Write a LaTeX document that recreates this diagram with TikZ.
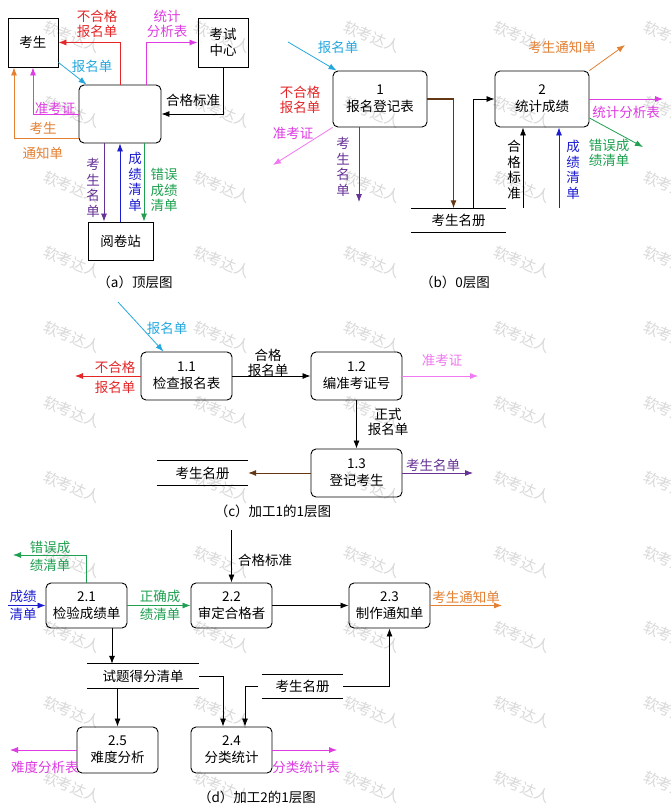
\documentclass[tikz,border=0pt]{standalone}
\usepackage{fontspec}
\newfontfamily\cjk{Noto Sans CJK SC}
\usetikzlibrary{arrows.meta,calc}
\definecolor{cred}{RGB}{228,38,40}
\definecolor{ccyan}{RGB}{38,168,222}
\definecolor{cmag}{RGB}{222,60,226}
\definecolor{cpink}{RGB}{240,120,240}
\definecolor{corange}{RGB}{228,128,50}
\definecolor{cpurple}{RGB}{102,50,150}
\definecolor{cblue}{RGB}{28,28,210}
\definecolor{cgreen}{RGB}{30,160,80}
\definecolor{cbrown}{RGB}{100,55,20}
\begin{document}
\begin{tikzpicture}[x=1pt,y=-1pt,
  every node/.style={font=\cjk\fontsize{13.5}{15.5}\selectfont},
  ebox/.style={draw, line width=0.9pt, inner sep=0pt, align=center},
  pbox/.style={draw, line width=0.9pt, rounded corners=5pt, inner sep=0pt, align=center, font=\cjk\fontsize{13.5}{17}\selectfont},
  lbl/.style={inner sep=0pt, align=center},
  arr/.style={-{Latex[length=8pt,width=6pt]}, line width=0.8pt},
  sline/.style={line width=0.8pt},
  dstore/.style={inner sep=0pt, minimum height=24pt},
  wm/.style={text=black!15, rotate=-22, font=\cjk\fontsize{15}{15}\selectfont},
  captext/.style={inner sep=0pt, font=\cjk\fontsize{13.5}{15}\selectfont}]
\useasboundingbox (0,0) rectangle (671,809);
\fill[white] (0,0) rectangle (671,809);
% watermarks
\foreach \wx in {72,222,372,522,672}{
  \foreach \wy in {37,112,187,262,337,412,487,562,637,712,787}{
    \node[wm] at (\wx,\wy) {软考达人};
  }
}
%================ (a) ================
\node[ebox, minimum width=50pt, minimum height=49pt] (ks) at (33,42.5) {考生};
\node[ebox, minimum width=50pt, minimum height=49pt] (kszx) at (223,42.5) {考试\\中心};
\node[pbox, minimum width=82pt, minimum height=58pt] (c0) at (120,114) {};
\node[ebox, minimum width=65pt, minimum height=38pt] (yjz) at (120.5,241) {阅卷站};
\draw[arr,cred] (c0.north) |- (ks.east);
\draw[arr,cmag] ([xshift=26pt]c0.north) |- (kszx.west);
\draw[arr,black] (kszx.south) |- (c0.east);
\draw[arr,ccyan] ([yshift=5pt]ks.south east) -- ([xshift=8pt]c0.north west);
\draw[arr,cmag] (c0.west) -| (ks.south);
\draw[arr,corange] ([yshift=-24pt]c0.west) -| ([xshift=-19pt]ks.south);
\draw[arr,cpurple] ([xshift=-16pt]c0.south) -- ([xshift=-16.5pt]yjz.north);
\draw[arr,cblue] ([xshift=-0.5pt]yjz.north) -- (c0.south);
\draw[arr,cgreen] ([xshift=24pt]c0.south) -- ([xshift=23.5pt]yjz.north);
\node[lbl,text=cred] (la1) at (97,24) {不合格\\报名单};
\node[lbl,text=ccyan] (la2) at (92,66) {报名单};
\node[lbl,text=cmag] (la3) at (167,24) {统计\\分析表};
\node[lbl] (la4) at (193,100) {合格标准};
\node[lbl,text=cmag] (la5) at (55,108) {准考证};
\node[lbl,text=corange] (la6) at (43,128) {考生};
\node[lbl,text=corange] (la7) at (43,153) {通知单};
\node[lbl,text=cpurple] (la8) at (93,188) {考\\生\\名\\单};
\node[lbl,text=cblue] (la9) at (135,182) {成\\绩\\清\\单};
\node[lbl,text=cgreen] (la10) at (164,190) {错误\\成绩\\清单};
\node[captext] (capa) at (135,282) {（a）顶层图};
%================ (b) ================
\node[pbox, minimum width=94pt, minimum height=56pt] (b1) at (380,99) {1\\报名登记表};
\node[pbox, minimum width=94pt, minimum height=56pt] (b2) at (542,99) {2\\统计成绩};
\node[dstore, minimum width=95pt] (st1) at (458.5,220.5) {考生名册};
\draw[sline] (st1.north west) -- (st1.north east) (st1.south west) -- (st1.south east);
\coordinate (b1in) at (288,42);
\coordinate (b1out) at (273,165);
\coordinate (b1ks) at (359,202);
\coordinate (b2hg) at (523,208);
\coordinate (b2cj) at (559,208);
\coordinate (b2err) at (643,147);
\coordinate (b2tj) at (663,99);
\coordinate (b2tz) at (625,45);
\draw[arr,ccyan] (b1in) -- ([xshift=4pt]b1.north west);
\draw[arr,cpink] (b1.south west) -- (b1out);
\draw[arr,cpurple] (b1ks |- b1.south) -- (b1ks);
\draw[arr,cbrown,line width=1.1pt] (b1.east) -| ([xshift=-5pt]st1.north);
\draw[arr] ([xshift=15pt]st1.north) |- (b2.west);
\draw[arr] (b2hg) -- (b2hg |- b2.south);
\draw[arr,cblue] (b2cj) -- (b2cj |- b2.south);
\draw[arr,cgreen] ([yshift=-19pt]b2.east) -- (b2err);
\draw[arr,cmag] (b2.east) -- (b2tj);
\draw[arr,corange] (b2.north east) -- (b2tz);
\node[lbl,text=ccyan] (lb1) at (338,47) {报名单};
\node[lbl,text=cred] (lb2) at (300,100) {不合格\\报名单};
\node[lbl,text=cmag] (lb3) at (293,133) {准考证};
\node[lbl,text=cpurple] (lb4) at (343,167) {考\\生\\名\\单};
\node[lbl] (lb5) at (514,170) {合\\格\\标\\准};
\node[lbl,text=cblue] (lb6) at (573,170) {成\\绩\\清\\单};
\node[lbl,text=cgreen] (lb7) at (609,153) {错误成\\绩清单};
\node[lbl,text=cmag] (lb8) at (626,112) {统计分析表};
\node[lbl,text=corange] (lb9) at (562,47) {考生通知单};
\node[captext] (capb) at (455,282) {（b）0层图};
%================ (c) ================
\node[pbox, minimum width=91pt, minimum height=48pt] (c11) at (186.5,376) {1.1\\检查报名表};
\node[pbox, minimum width=91pt, minimum height=48pt] (c12) at (356.5,376) {1.2\\编准考证号};
\node[pbox, minimum width=91pt, minimum height=48pt] (c13) at (356.5,473) {1.3\\登记考生};
\node[dstore, minimum width=91pt] (st2) at (202.5,473) {考生名册};
\draw[sline] (st2.north west) -- (st2.north east) (st2.south west) -- (st2.south east);
\coordinate (c11in) at (118,302);
\coordinate (c11out) at (75,376);
\coordinate (c12out) at (478,376);
\coordinate (c13out) at (473,473);
\draw[arr,ccyan] (c11in) -- ([xshift=-23pt]c11.north);
\draw[arr,cred] (c11.west) -- (c11out);
\draw[arr] (c11.east) -- (c12.west);
\draw[arr,cpink] (c12.east) -- (c12out);
\draw[arr] (c12.south) -- (c13.north);
\draw[arr,cbrown] (c13.west) -- (st2.east);
\draw[arr,cpurple] (c13.east) -- (c13out);
\node[lbl,text=ccyan] (lc1) at (167,328) {报名单};
\node[lbl,text=cred] (lc2) at (115,367) {不合格};
\node[lbl,text=cred] (lc3) at (115,387) {报名单};
\node[lbl] (lc4) at (268,363) {合格\\报名单};
\node[lbl,text=cpink] (lc5) at (442,360) {准考证};
\node[lbl] (lc6) at (388,422) {正式\\报名单};
\node[lbl,text=cpurple] (lc7) at (433,465) {考生名单};
\node[captext] (capc) at (273,511) {（c）加工1的1层图};
%================ (d) ================
\node[pbox, minimum width=81pt, minimum height=45pt] (d21) at (86.5,605.5) {2.1\\检验成绩单};
\node[pbox, minimum width=81pt, minimum height=45pt] (d22) at (231.5,605.5) {2.2\\审定合格者};
\node[pbox, minimum width=81pt, minimum height=45pt] (d23) at (389.5,605.5) {2.3\\制作通知单};
\node[pbox, minimum width=81pt, minimum height=46pt] (d25) at (117.5,750) {2.5\\难度分析};
\node[pbox, minimum width=81pt, minimum height=46pt] (d24) at (231.5,750) {2.4\\分类统计};
\node[dstore, minimum width=112pt] (st3) at (143,676) {试题得分清单};
\draw[sline] (st3.north west) -- (st3.north east) (st3.south west) -- (st3.south east);
\node[dstore, minimum width=81pt, minimum height=23pt] (st4) at (302.5,686.5) {考生名册};
\draw[sline] (st4.north west) -- (st4.north east) (st4.south west) -- (st4.south east);
\coordinate (d21err) at (13,555);
\coordinate (d21in) at (8,605.5);
\coordinate (d22in) at (231.5,530);
\coordinate (d23out) at (502,605.5);
\coordinate (d25out) at (10,750);
\coordinate (d24out) at (337,750);
\draw[arr,cgreen] (d21.north) |- (d21err);
\draw[arr,cblue] (d21in) -- (d21.west);
\draw[arr,cgreen] (d21.east) -- (d22.west);
\draw[arr] (d22in) -- (d22.north);
\draw[arr] (d22.east) -- (d23.west);
\draw[arr,corange] (d23.east) -- (d23out);
\draw[arr] ([xshift=25.5pt]d21.south) -- ([xshift=25.5pt]d21.south |- st3.north);
\draw[arr] (d25.north |- st3.south) -- (d25.north);
\draw[arr] (st3.east) -| ([xshift=-8.5pt]d24.north);
\draw[arr] ([xshift=-4pt]st4.west) -| ([xshift=13.5pt]d24.north);
\draw[arr] (st4.east) -| (d23.south);
\draw[arr,cmag] (d25.west) -- (d25out);
\draw[arr,cmag] (d24.east) -- (d24out);
\node[lbl,text=cgreen] (ld1) at (50,547) {错误成};
\node[lbl,text=cgreen] (ld2) at (50,565) {绩清单};
\node[lbl,text=cblue] (ld3) at (23,596) {成绩};
\node[lbl,text=cblue] (ld4) at (23,614) {清单};
\node[lbl,text=cgreen] (ld5) at (160,596) {正确成};
\node[lbl,text=cgreen] (ld6) at (160,614) {绩清单};
\node[lbl] (ld7) at (265,560) {合格标准};
\node[lbl,text=corange] (ld8) at (466,597) {考生通知单};
\node[lbl,text=cmag] (ld9) at (45,767) {难度分析表};
\node[lbl,text=cmag] (ld10) at (306,767) {分类统计表};
\node[captext] (capd) at (257,797) {（d）加工2的1层图};
\end{tikzpicture}
\end{document}
